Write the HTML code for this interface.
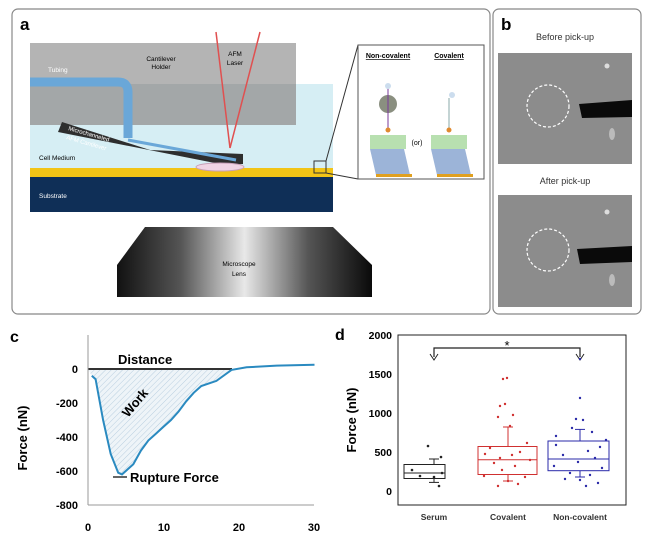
<!DOCTYPE html>
<html><head><meta charset="utf-8"><style>
html,body{margin:0;padding:0;background:#fff;}
svg{display:block;font-family:"Liberation Sans",sans-serif;}
</style></head><body>
<svg width="650" height="537" viewBox="0 0 650 537" xmlns="http://www.w3.org/2000/svg">
<defs>
<linearGradient id="lens" x1="0" x2="1" y1="0" y2="0">
<stop offset="0" stop-color="#111"/><stop offset="0.25" stop-color="#555"/><stop offset="0.5" stop-color="#e8e8e8"/><stop offset="0.75" stop-color="#555"/><stop offset="1" stop-color="#0a0a0a"/>
</linearGradient>
<pattern id="hatch" width="4" height="4" patternUnits="userSpaceOnUse" patternTransform="rotate(45)">
<rect width="4" height="4" fill="#eef4f8"/><line x1="0" y1="0" x2="0" y2="4" stroke="#b9cfe0" stroke-width="1"/>
</pattern>
</defs>
<!-- Panel a -->
<rect x="12" y="9" width="478" height="305" rx="6" fill="#fff" stroke="#888" stroke-width="1.2"/>
<text x="20" y="30" font-size="17" font-weight="bold">a</text>
<rect x="30" y="84" width="303" height="90" fill="#d6eef4"/>
<rect x="30" y="43" width="266" height="82" fill="#9a9a9a" opacity="0.85"/>
<rect x="30" y="43" width="266" height="41" fill="#b4b4b4"/>
<rect x="30" y="168" width="303" height="9" fill="#f2c416"/>
<rect x="30" y="177" width="303" height="35" fill="#0f2f57"/>
<path d="M30 82 L118 82 Q128 82 128 92 L128 138" fill="none" stroke="#6aa7d8" stroke-width="9"/>
<polygon points="58,132 62,122 150,150 243,154 243,164 225,165" fill="#2e2e2e"/>
<line x1="128" y1="140" x2="236" y2="160" stroke="#6aa7d8" stroke-width="3"/>
<line x1="216" y1="32" x2="230" y2="148" stroke="#e05050" stroke-width="1.5"/>
<line x1="260" y1="32" x2="230" y2="148" stroke="#e05050" stroke-width="1.5"/>
<ellipse cx="220" cy="167" rx="24" ry="4" fill="#f0d4e4" stroke="#c8a0b8"/>
<text x="161" y="61" font-size="6.5" text-anchor="middle">Cantilever</text>
<text x="161" y="69" font-size="6.5" text-anchor="middle">Holder</text>
<text x="235" y="56" font-size="6.5" text-anchor="middle">AFM</text>
<text x="235" y="65" font-size="6.5" text-anchor="middle">Laser</text>
<text x="48" y="72" font-size="6.5" fill="#fff">Tubing</text>
<text x="68" y="130" font-size="6" fill="#fff" transform="rotate(16 68 130)">Microchanneled</text>
<text x="66" y="139" font-size="6" fill="#fff" transform="rotate(16 66 139)">AFM Cantilever</text>
<text x="39" y="160" font-size="6.5">Cell Medium</text>
<text x="39" y="198" font-size="6.5" fill="#fff">Substrate</text>
<rect x="314" y="161" width="12" height="12" fill="none" stroke="#333"/>
<line x1="326" y1="161" x2="358" y2="45" stroke="#333"/>
<line x1="326" y1="173" x2="358" y2="179" stroke="#333"/>
<polygon points="145,227 333,227 372,265 372,297 117,297 117,265" fill="url(#lens)"/>
<text x="239" y="266" font-size="6.5" text-anchor="middle">Microscope</text>
<text x="239" y="276" font-size="6.5" text-anchor="middle">Lens</text>
<rect x="358" y="45" width="126" height="134" fill="#fff" stroke="#555"/>
<text x="388" y="58" font-size="7" font-weight="bold" text-anchor="middle" text-decoration="underline">Non-covalent</text>
<text x="449" y="58" font-size="7" font-weight="bold" text-anchor="middle" text-decoration="underline">Covalent</text>
<text x="417" y="145" font-size="7" text-anchor="middle">(or)</text>
<circle cx="388" cy="104" r="9" fill="#8a8f80"/>
<line x1="388" y1="84" x2="388" y2="130" stroke="#7a3a9a"/>
<line x1="449" y1="98" x2="449" y2="130" stroke="#8aa"/>
<circle cx="388" cy="86" r="3" fill="#cde"/><circle cx="452" cy="95" r="3" fill="#cde"/>
<circle cx="388" cy="130" r="2.5" fill="#e08a30"/><circle cx="449" cy="130" r="2.5" fill="#e08a30"/>
<rect x="370" y="135" width="36" height="14" fill="#b8e0b0"/><rect x="431" y="135" width="36" height="14" fill="#b8e0b0"/>
<polygon points="370,149 404,149 410,175 376,175" fill="#9cb4d8"/><polygon points="431,149 465,149 471,175 437,175" fill="#9cb4d8"/>
<rect x="376" y="174" width="36" height="3" fill="#e0a020"/><rect x="437" y="174" width="36" height="3" fill="#e0a020"/>
<!-- Panel b -->
<rect x="493" y="9" width="148" height="305" rx="6" fill="#fff" stroke="#888" stroke-width="1.2"/>
<text x="501" y="30" font-size="17" font-weight="bold">b</text>
<text x="565" y="40" font-size="9" text-anchor="middle" fill="#333">Before pick-up</text>
<rect x="498" y="53" width="134" height="111" fill="#8c8c8c"/>
<circle cx="548" cy="106" r="21" fill="none" stroke="#fff" stroke-width="1.2" stroke-dasharray="3,2"/>
<polygon points="579,104 632,100 632,117 582,118" fill="#0a0a0a"/>
<circle cx="607" cy="66" r="2.5" fill="#ddd"/><ellipse cx="612" cy="134" rx="3" ry="6" fill="#bbb"/>
<text x="565" y="184" font-size="9" text-anchor="middle" fill="#333">After pick-up</text>
<rect x="498" y="195" width="134" height="112" fill="#8c8c8c"/>
<circle cx="548" cy="250" r="21" fill="none" stroke="#fff" stroke-width="1.2" stroke-dasharray="3,2"/>
<polygon points="577,249 632,246 632,262 580,264" fill="#0a0a0a"/>
<circle cx="607" cy="212" r="2.5" fill="#ddd"/><ellipse cx="612" cy="280" rx="3" ry="6" fill="#bbb"/>
<!-- Panel c -->
<text x="10" y="342" font-size="16" font-weight="bold">c</text>
<polygon points="91.8,375.8 95.6,379.2 103.1,420 110.7,454 118.2,472.7 122,474.4 125.8,471 133.3,464.2 140.9,450.6 148.4,440.4 156,433.6 163.5,426.8 171,420 178.6,411.5 186.2,401.3 193.7,392.8 201.3,386 216.4,380.9 231.5,369.9 231.5,369 88,369" fill="url(#hatch)"/>
<line x1="88" y1="369" x2="232" y2="369" stroke="#333" stroke-width="2"/>
<polyline points="91.8,375.8 95.6,379.2 103.1,420 110.7,454 118.2,472.7 122,474.4 125.8,471 133.3,464.2 140.9,450.6 148.4,440.4 156,433.6 163.5,426.8 171,420 178.6,411.5 186.2,401.3 193.7,392.8 201.3,386 216.4,380.9 231.5,369.9 246.6,367.3 276.8,365.6 314.5,364.8" fill="none" stroke="#2a8ac0" stroke-width="2"/>
<line x1="88" y1="335" x2="88" y2="505" stroke="#999"/>
<line x1="88" y1="505" x2="314" y2="505" stroke="#999"/>
<g font-size="11" font-weight="bold" text-anchor="end">
<text x="78" y="373">0</text><text x="78" y="407">-200</text><text x="78" y="441">-400</text><text x="78" y="475">-600</text><text x="78" y="509">-800</text>
</g>
<g font-size="11" font-weight="bold" text-anchor="middle">
<text x="88" y="531">0</text><text x="164" y="531">10</text><text x="239" y="531">20</text><text x="314" y="531">30</text>
</g>
<text x="27" y="438" font-size="13" font-weight="bold" text-anchor="middle" transform="rotate(-90 27 438)">Force (nN)</text>
<text x="118" y="364" font-size="13" font-weight="bold">Distance</text>
<text x="128" y="418" font-size="13" font-weight="bold" transform="rotate(-50 128 418)">Work</text>
<line x1="113" y1="477" x2="127" y2="477" stroke="#333" stroke-width="1.5"/>
<text x="130" y="482" font-size="13" font-weight="bold">Rupture Force</text>
<!-- Panel d -->
<text x="335" y="340" font-size="16" font-weight="bold">d</text>
<rect x="398" y="335" width="228" height="170" fill="none" stroke="#222"/>
<g font-size="10.5" font-weight="bold" text-anchor="end">
<text x="392" y="339">2000</text><text x="392" y="378">1500</text><text x="392" y="417">1000</text><text x="392" y="456">500</text><text x="392" y="495">0</text>
</g>
<text x="356" y="420" font-size="13" font-weight="bold" text-anchor="middle" transform="rotate(-90 356 420)">Force (nN)</text>
<g font-size="8.5" font-weight="bold" text-anchor="middle" fill="#333">
<text x="434" y="520">Serum</text><text x="508" y="520">Covalent</text><text x="580" y="520">Non-covalent</text>
</g>
<path d="M434 357 L434 348 L580 348 L580 357" fill="none" stroke="#222" stroke-width="1.2"/>
<path d="M430 354 L434 360 L438 354 M576 354 L580 360 L584 354" fill="none" stroke="#222"/>
<text x="507" y="350" font-size="13" text-anchor="middle">*</text>
<g fill="none" stroke="#222">
<rect x="404" y="464.5" width="41" height="14"/><line x1="404" y1="473" x2="445" y2="473"/>
<line x1="434" y1="464.5" x2="434" y2="459"/><line x1="429" y1="459" x2="439" y2="459"/>
<line x1="434" y1="478.5" x2="434" y2="482.4"/><line x1="429" y1="482.4" x2="439" y2="482.4"/>
</g>
<g fill="none" stroke="#d03030">
<rect x="478" y="446.5" width="59" height="28"/><line x1="478" y1="459.8" x2="537" y2="459.8"/>
<line x1="508" y1="446.5" x2="508" y2="427"/><line x1="503" y1="427" x2="513" y2="427"/>
<line x1="508" y1="474.6" x2="508" y2="481"/><line x1="503" y1="481" x2="513" y2="481"/>
</g>
<g fill="none" stroke="#2a2aa8">
<rect x="548" y="441" width="61" height="29.7"/><line x1="548" y1="459" x2="609" y2="459"/>
<line x1="580" y1="441" x2="580" y2="429.4"/><line x1="575" y1="429.4" x2="585" y2="429.4"/>
<line x1="580" y1="470.7" x2="580" y2="477"/><line x1="575" y1="477" x2="585" y2="477"/>
</g>
<g fill="#222">
<circle cx="428" cy="446" r="1.3"/><circle cx="441" cy="457" r="1.3"/><circle cx="412" cy="470" r="1.3"/><circle cx="442" cy="473" r="1.3"/><circle cx="434" cy="477" r="1.3"/><circle cx="439" cy="486" r="1.3"/><circle cx="420" cy="476" r="1.3"/>
</g>
<g fill="#d03030">
<circle cx="503" cy="379" r="1.2"/><circle cx="507" cy="378" r="1.2"/><circle cx="500" cy="406" r="1.2"/><circle cx="505" cy="404" r="1.2"/><circle cx="498" cy="417" r="1.2"/><circle cx="513" cy="415" r="1.2"/><circle cx="510" cy="426" r="1.2"/><circle cx="485" cy="454" r="1.2"/><circle cx="520" cy="452" r="1.2"/><circle cx="530" cy="460" r="1.2"/><circle cx="494" cy="463" r="1.2"/><circle cx="515" cy="466" r="1.2"/><circle cx="502" cy="470" r="1.2"/><circle cx="484" cy="476" r="1.2"/><circle cx="525" cy="477" r="1.2"/><circle cx="508" cy="481" r="1.2"/><circle cx="498" cy="486" r="1.2"/><circle cx="518" cy="484" r="1.2"/><circle cx="490" cy="448" r="1.2"/><circle cx="527" cy="443" r="1.2"/><circle cx="512" cy="455" r="1.2"/><circle cx="500" cy="458" r="1.2"/>
</g>
<g fill="#2a2aa8">
<circle cx="580" cy="359" r="1.2"/><circle cx="580" cy="398" r="1.2"/><circle cx="576" cy="419" r="1.2"/><circle cx="583" cy="420" r="1.2"/><circle cx="572" cy="428" r="1.2"/><circle cx="592" cy="432" r="1.2"/><circle cx="556" cy="445" r="1.2"/><circle cx="600" cy="447" r="1.2"/><circle cx="588" cy="451" r="1.2"/><circle cx="563" cy="455" r="1.2"/><circle cx="595" cy="458" r="1.2"/><circle cx="578" cy="462" r="1.2"/><circle cx="554" cy="466" r="1.2"/><circle cx="602" cy="468" r="1.2"/><circle cx="570" cy="473" r="1.2"/><circle cx="590" cy="475" r="1.2"/><circle cx="580" cy="480" r="1.2"/><circle cx="565" cy="479" r="1.2"/><circle cx="598" cy="483" r="1.2"/><circle cx="586" cy="486" r="1.2"/><circle cx="606" cy="440" r="1.2"/><circle cx="556" cy="436" r="1.2"/>
</g>
</svg>
</body></html>
